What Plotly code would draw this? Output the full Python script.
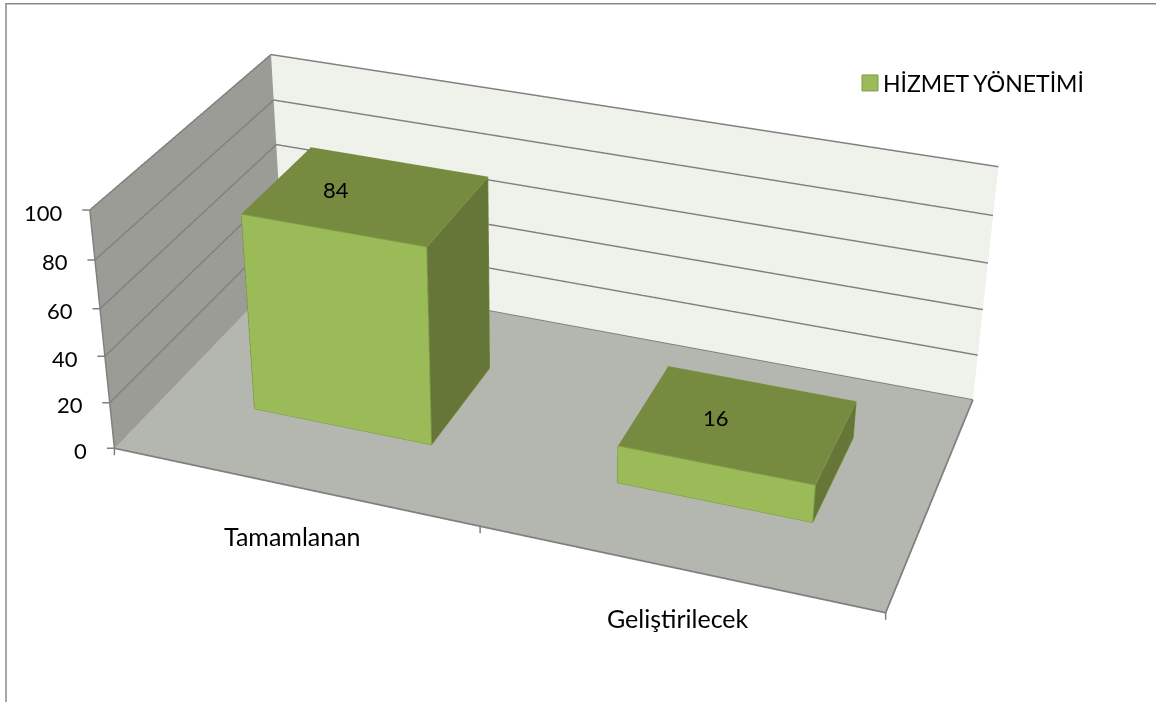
import plotly.graph_objects as go

categories = ["Tamamlanan", "Geliştirilecek"]
values = [84, 16]
series_name = "HİZMET YÖNETİMİ"
z_ticks = [0, 20, 40, 60, 80, 100]
x_ticks = [0, 1, 2]
label_xshift = [-30, -23]

# page window and oversized GL canvas (plotly's fixed 45 degree lens needs a tall canvas)
W, H = 1156, 702
FW, FH, LEFT, TOP = 1656, 1996, -300, -642
BAR_HALF, BAR_Y0, BAR_Y1 = 0.2501, 0.2977, 0.7067
EYE = dict(x=1.7931, y=-4.9731, z=2.9716)
CENTER = dict(x=-0.0356, y=-0.0725, z=-0.1042)
UP = dict(x=0.0029, y=0.0011, z=1)
ASPECT = dict(x=2, y=0.999, z=0.6794)

FONT = "Lato, Carlito, Calibri, sans-serif"
GRID = "#808080"
FRONT, SIDE, TOP_C, EDGE = "#9bbb59", "#657638", "#768a40", "#7f9b48"
NX = len(categories)
ZMAX = z_ticks[-1]


def PX(x):
    return (x - LEFT) / FW


def PY(y):
    return 1 - (y - TOP) / FH


fig = go.Figure()

for v in z_ticks[1:-1]:
    fig.add_scatter3d(x=[0, 0, NX], y=[0, 1, 1], z=[v, v, v], mode="lines",
                      line=dict(color=GRID, width=3), showlegend=False, hoverinfo="skip")
frame = [
    ([0, 0, NX], [0, 1, 1], [ZMAX, ZMAX, ZMAX], 3),
    ([0, 0], [0, 0], [0, ZMAX], 3),
    ([0, NX, NX], [0, 0, 1], [0, 0, 0], 3.5),
    ([0, NX], [1, 1], [0, 0], 2),
]
for fx, fy, fz, lw in frame:
    fig.add_scatter3d(x=fx, y=fy, z=fz, mode="lines", line=dict(color=GRID, width=lw),
                      showlegend=False, hoverinfo="skip")

face_colors = [FRONT] * 2 + [SIDE] * 2 + [TOP_C] * 2 + [SIDE] * 6
I = [0, 0, 1, 1, 4, 4, 0, 0, 2, 2, 3, 3]
J = [1, 5, 2, 6, 5, 6, 3, 7, 3, 7, 0, 4]
K = [5, 4, 6, 5, 6, 7, 7, 4, 7, 6, 4, 7]
for c, v in enumerate(values):
    xa, xb = c + 0.5 - BAR_HALF, c + 0.5 + BAR_HALF
    ya, yb = BAR_Y0, BAR_Y1
    fig.add_mesh3d(x=[xa, xb, xb, xa, xa, xb, xb, xa], y=[ya, ya, yb, yb, ya, ya, yb, yb],
                   z=[0, 0, 0, 0, v, v, v, v], i=I, j=J, k=K, facecolor=face_colors, flatshading=True,
                   lighting=dict(ambient=1, diffuse=0, specular=0, fresnel=0, roughness=1),
                   hoverinfo="skip", showlegend=False)
    fig.add_scatter3d(x=[xa, xb, xb, xa, xa, xa, xb, xb, xb, xb, xb],
                      y=[ya, ya, ya, ya, ya, yb, yb, ya, ya, yb, yb],
                      z=[0, 0, v, v, 0, v, v, v, 0, 0, v], mode="lines",
                      line=dict(color=EDGE, width=2), showlegend=False, hoverinfo="skip")

fig.add_scatter3d(x=[None], y=[None], z=[None], mode="markers", name=series_name, showlegend=True,
                  marker=dict(symbol="square", size=16, color=FRONT, line=dict(color=EDGE, width=1)))

ann = []
tick_style = dict(showarrow=True, arrowhead=0, arrowwidth=1.5, arrowcolor=GRID, standoff=0, startstandoff=0, text=" ",
                  font=dict(size=1))
for v in z_ticks:
    ann.append(dict(x=0, y=0, z=v, ax=-9, ay=0, **tick_style))
    ann.append(dict(x=0, y=0, z=v, text=str(v), showarrow=False, xanchor="right", yanchor="middle",
                    xshift=-25, yshift=-2, font=dict(family=FONT, size=22, color="black")))
for t in x_ticks:
    ann.append(dict(x=t, y=0, z=0, ax=0, ay=9, **tick_style))
for c, name in enumerate(categories):
    ann.append(dict(x=c + 0.5, y=0, z=0, text=name, showarrow=False, xanchor="center", yanchor="middle",
                    yshift=-50, font=dict(family=FONT, size=25, color="black")))
for c, v in enumerate(values):
    ann.append(dict(x=c + 0.5, y=0.5, z=v, text=str(v), showarrow=False, xanchor="center", yanchor="middle",
                    xshift=label_xshift[c], yshift=6, font=dict(family=FONT, size=22, color="black")))

border = dict(type="path", xref="paper", yref="paper", line=dict(color="#8a8a8a", width=1.5),
              path="M %f %f L %f %f L %f %f" % (PX(6), PY(702), PX(6), PY(3.7), PX(1160), PY(3.7)))

axis = dict(showgrid=False, showticklabels=False, title="", showbackground=True, zeroline=False,
            showspikes=False, showline=False, ticks="")
fig.update_layout(
    width=FW, height=FH, margin=dict(l=0, r=0, t=0, b=0), paper_bgcolor="white",
    shapes=[border], showlegend=True,
    legend=dict(x=PX(843), y=PY(83), xanchor="left", yanchor="middle", bgcolor="rgba(0,0,0,0)",
                font=dict(family=FONT, size=23, color="black")),
    scene=dict(
        aspectmode="manual", aspectratio=ASPECT, domain=dict(x=[0, 1], y=[0, 1]),
        camera=dict(eye=EYE, center=CENTER, up=UP, projection=dict(type="perspective")),
        annotations=ann,
        xaxis={**axis, "range": [0, NX], "backgroundcolor": "#9a9c95"},
        yaxis={**axis, "range": [0, 1], "backgroundcolor": "#eff2eb"},
        zaxis={**axis, "range": [0, ZMAX], "backgroundcolor": "#b4b7af"},
    ),
)
ps = ("var gd=document.getElementById('{plot_id}');gd.style.position='absolute';"
      "gd.style.left='%dpx';gd.style.top='%dpx';document.body.style.margin='0';"
      "document.body.style.overflow='hidden';document.documentElement.style.overflow='hidden';"
      "function fixLeg(){var s=gd.querySelector('.legendsymbols');if(s)s.setAttribute('transform','translate(7,0)');}"
      "fixLeg();if(gd.on)gd.on('plotly_afterplot',fixLeg);setTimeout(fixLeg,100);" % (LEFT, TOP))
fig.write_html("out.html", post_script=ps, config=dict(displayModeBar=False))
